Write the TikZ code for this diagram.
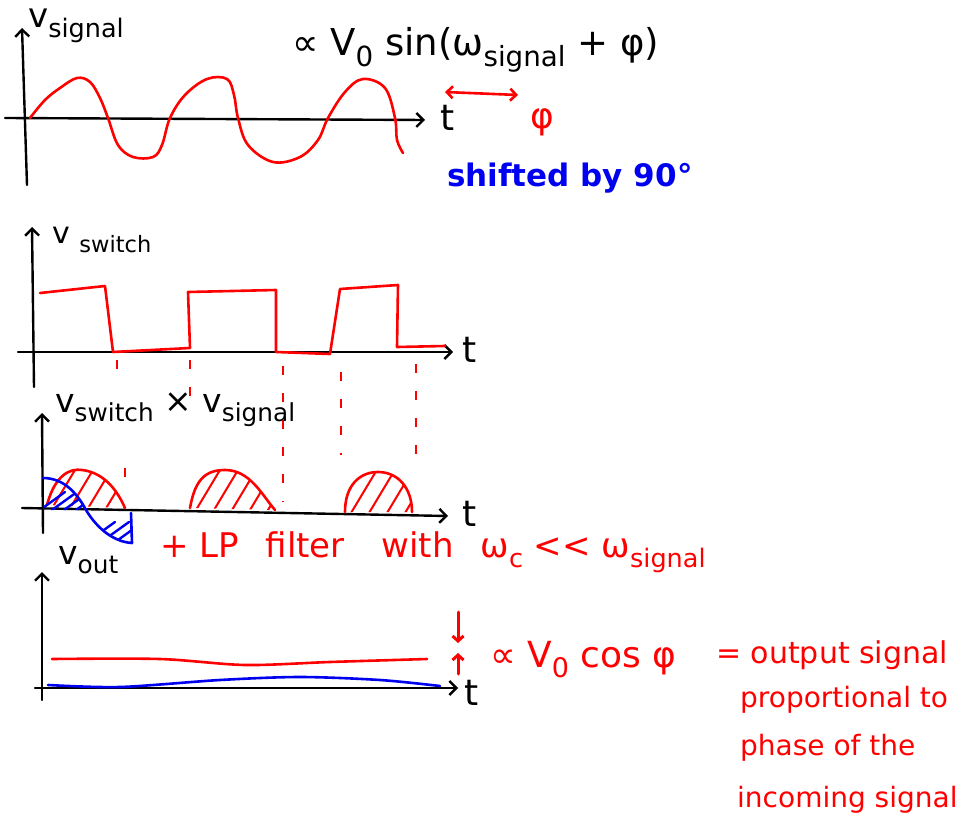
\documentclass[tikz,border=0pt]{standalone}
\usepackage{fontspec}
\usepackage{graphicx}
\setmainfont{DejaVu Sans}
\usetikzlibrary{arrows.meta}
\definecolor{pred}{RGB}{255,0,0}
\definecolor{pblue}{RGB}{0,0,240}
\newcommand\sbs[1]{\raisebox{-0.28em}{\scalebox{0.75}{#1}}}
\tikzset{
  axisline/.style={line width=2.4pt, line cap=round, -{Straight Barb[length=7pt,width=14pt,line width=2.4pt]}},
  redc/.style={pred, line width=2.6pt, line cap=round, line join=round},
  bluec/.style={pblue, line width=2.6pt, line cap=round, line join=round},
  hatchr/.style={pred, line width=2pt, line cap=round},
  hatchb/.style={pblue, line width=2.4pt, line cap=round},
  guide/.style={pred, line width=1.6pt, dash pattern=on 9pt off 18pt},
  txt/.style={inner sep=0pt, anchor=west},
  fs/.style={font=\fontsize{#1}{#1}\selectfont},
}
\begin{document}
\begin{tikzpicture}[x=1pt,y=-1pt]
\useasboundingbox (0,0) rectangle (974,826);

% ---------- panel 1 ----------
\draw[axisline] (27,185) -- (22,28);
\draw[axisline] (5,118) -- (425,120);
\node[txt, fs=36] (t1) at (440,118) {t};
\node[txt, fs=34] (l1) at (28,26) {v\sbs{signal}};
\draw[redc] plot[smooth, tension=0.6] coordinates {(30,118) (45,100) (60,88) (77,78) (90,82) (100,98) (108,118) (118,145) (133,157) (153,157) (162,145) (170,118) (185,95) (207,79) (227,79) (234,95) (238,118) (248,145) (273,162) (300,157) (318,140) (328,118) (345,92) (363,79) (385,88) (395,118) (397,140) (403,153)};
\node[txt, fs=37] (f1) at (292,50) {∝ V\sbs{0} sin(ω\sbs{signal} + φ)};
\coordinate (pa) at (445,92);
\coordinate (pb) at (518,95);
\draw[redc, {Straight Barb[length=6pt,width=12pt]}-{Straight Barb[length=6pt,width=12pt]}] (pa) -- (pb);
\node[txt, fs=36, text=pred] (phi1) at (530,122) {φ};
\node[txt, fs=31, text=pblue] (sh) at (447,178) {\bfseries shifted by 90°};

% ---------- panel 2 ----------
\draw[axisline] (34,387) -- (32,227);
\draw[axisline] (18,352) -- (453,352);
\node[txt, fs=36] (t2) at (462,350) {t};
\node[txt, fs=30] (l2) at (52,240) {v \sbs{switch}};
\draw[redc] (40,293) -- (105,286) -- (113,352) -- (190,348) -- (188,292) -- (276,290) -- (276,352) -- (330,354) -- (340,289) -- (398,285) -- (397,347) -- (445,346);
\draw[guide] (117,360) -- (117,372);
\draw[guide] (190,360) -- (190,398);
\draw[guide] (283,366) -- (283,502);
\draw[guide] (341,372) -- (341,455);
\draw[guide] (416,364) -- (416,462);
\draw[guide] (125,468) -- (125,480);

% ---------- panel 3 ----------
\draw[axisline] (43,533) -- (42,413);
\draw[axisline] (22,508) -- (448,516);
\node[txt, fs=36] (t3) at (462,514) {t};
\node[txt, fs=33] (l3) at (55,410) {v\sbs{switch} × v\sbs{signal}};
% red humps with hatching
\begin{scope}
  \clip (47,505) .. controls (55,475) and (70,468) .. (82,470) .. controls (100,472) and (115,485) .. (125,508) -- cycle;
  \foreach \i in {30,48,...,140} \draw[hatchr] (\i,515) -- ++(30,-50);
\end{scope}
\draw[redc] (47,505) .. controls (55,475) and (70,468) .. (82,470) .. controls (100,472) and (115,485) .. (125,508);
\begin{scope}
  \clip (190,508) .. controls (195,480) and (205,470) .. (225,470) .. controls (250,470) and (262,495) .. (275,510) -- cycle;
  \foreach \i in {175,193,...,290} \draw[hatchr] (\i,515) -- ++(30,-50);
\end{scope}
\draw[redc] (190,508) .. controls (195,480) and (205,470) .. (225,470) .. controls (250,470) and (262,495) .. (275,510);
\begin{scope}
  \clip (345,512) .. controls (345,485) and (360,472) .. (378,472) .. controls (398,472) and (412,488) .. (412,512) -- cycle;
  \foreach \i in {330,348,...,425} \draw[hatchr] (\i,518) -- ++(30,-50);
\end{scope}
\draw[redc] (345,512) .. controls (345,485) and (360,472) .. (378,472) .. controls (398,472) and (412,488) .. (412,512);
% blue product
\begin{scope}
  \clip (43,478) .. controls (65,478) and (78,495) .. (86,510) -- (43,510) -- cycle;
  \foreach \i in {40,52,...,90} \draw[hatchb] (\i,510) -- ++(25,-18);
\end{scope}
\begin{scope}
  \clip (86,510) .. controls (98,530) and (115,542) .. (132,543) -- (132,512) -- cycle;
  \foreach \i in {90,104,...,140} \draw[hatchb] (\i,540) -- ++(25,-18);
\end{scope}
\draw[bluec] (43,478) .. controls (65,478) and (78,495) .. (86,510) .. controls (98,530) and (115,542) .. (132,543) -- (131,513);
\node[txt, fs=34, text=pred] (lp) at (160,552) {+ LP\hspace{16pt} filter\hspace{26pt} with\hspace{16pt} ω\sbs{c} <{}< ω\sbs{signal}};

% ---------- panel 4 ----------
\draw[axisline] (42,700) -- (42,572);
\draw[axisline] (35,688) -- (458,688);
\node[txt, fs=36] (t4) at (464,693) {t};
\node[txt, fs=33] (l4) at (58,560) {v\sbs{out}};
\draw[redc] plot[smooth] coordinates {(52,659) (160,659) (245,665) (330,662) (427,659)};
\draw[bluec] plot[smooth] coordinates {(48,685) (120,687) (220,680) (300,677) (380,680) (440,686)};
\coordinate (da) at (458,612);
\coordinate (db) at (458,643);
\coordinate (ua) at (458,674);
\coordinate (ub) at (458,653);
\draw[redc, line width=3pt, -{Straight Barb[length=5pt,width=11pt]}] (da) -- (db);
\draw[redc, line width=3pt, -{Straight Barb[length=5pt,width=11pt]}] (ua) -- (ub);
\node[txt, fs=36, text=pred] (cosphi) at (490,660) {∝ V\sbs{0} cos φ};
\node[txt, fs=30, text=pred] (o1) at (716,655) {= output signal};
\node[txt, fs=28, text=pred] (o2) at (740,700) {proportional to};
\node[txt, fs=28, text=pred] (o3) at (740,748) {phase of the};
\node[txt, fs=28, text=pred] (o4) at (737,800) {incoming signal};
\end{tikzpicture}
\end{document}
